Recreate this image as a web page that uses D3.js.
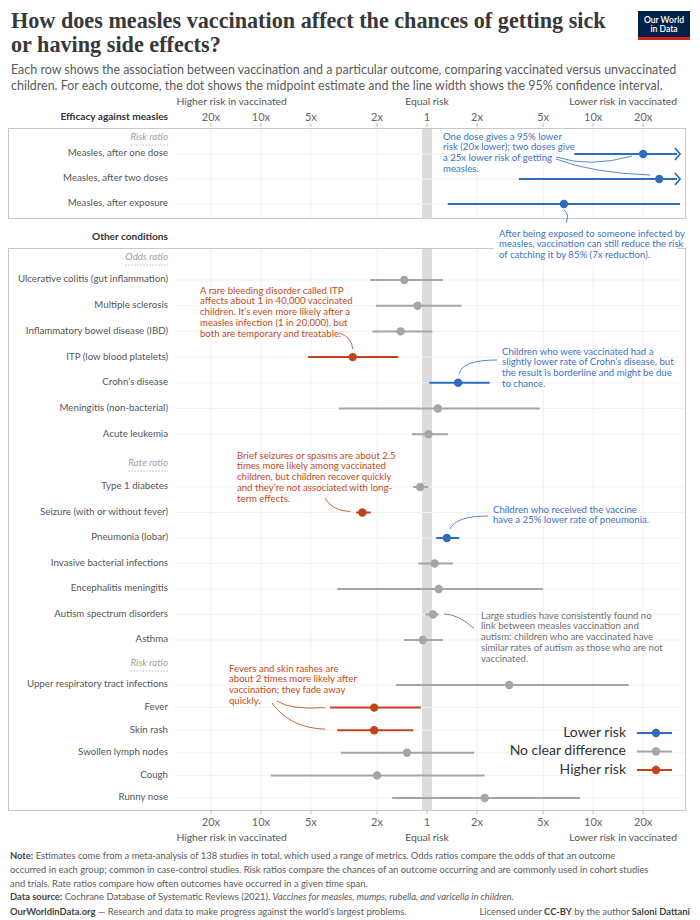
<!DOCTYPE html>
<html>
<head>
<meta charset="utf-8">
<script src="https://cdn.jsdelivr.net/npm/d3@7"></script>
<style>
  body { margin: 0; background: #fff; }
  text { font-family: Lato, 'Noto Sans', sans-serif; }
</style>
</head>
<body>
<svg id="chart"></svg>
<script>
// values: ratio vaccinated / unvaccinated (estimate, low CI, high CI)
const measlesRows = ['Measles, after one dose', 'Measles, after two doses', 'Measles, after exposure'];
const measlesEst = [0.05, 0.04, 0.15];
const measlesLo = [0.02, 0.01, 0.03];
const measlesHi = [0.13, 0.28, 0.75];

const oddsRows = ['Ulcerative colitis (gut inflammation)', 'Multiple sclerosis', 'Inflammatory bowel disease (IBD)',
  'ITP (low blood platelets)', 'Crohn’s disease', 'Meningitis (non-bacterial)', 'Acute leukemia'];
const oddsEst = [1.37, 1.14, 1.44, 2.80, 0.65, 0.86, 0.98];
const oddsLo = [0.80, 0.62, 0.93, 1.49, 0.42, 0.21, 0.75];
const oddsHi = [2.20, 2.03, 2.13, 5.20, 0.97, 3.39, 1.23];

const rateRows = ['Type 1 diabetes', 'Seizure (with or without fever)', 'Pneumonia (lobar)',
  'Invasive bacterial infections', 'Encephalitis meningitis', 'Autism spectrum disorders', 'Asthma'];
const rateEst = [1.10, 2.45, 0.76, 0.90, 0.85, 0.92, 1.06];
const rateLo = [0.98, 2.18, 0.64, 0.70, 0.20, 0.85, 0.80];
const rateHi = [1.21, 2.67, 0.88, 1.13, 3.47, 1.02, 1.38];

const riskRows = ['Upper respiratory tract infections', 'Fever', 'Skin rash', 'Swollen lymph nodes', 'Cough', 'Runny nose'];
const riskEst = [0.32, 2.08, 2.08, 1.32, 2.00, 0.45];
const riskLo = [0.061, 1.09, 1.21, 0.52, 0.45, 0.12];
const riskHi = [1.54, 3.84, 3.47, 3.30, 8.70, 1.62];

const tickValues = [20, 10, 5, 2, 1, 0.5, 0.2, 0.1, 0.05];
const tickLabels = ['20x', '10x', '5x', '2x', '1', '2x', '5x', '10x', '20x'];

const legendLabels = ['Lower risk', 'No clear difference', 'Higher risk'];
const legendKeys = ['lower', 'none', 'higher'];

const COLORS = {
  lower: '#2f6bbf',
  none: '#a5a5a5',
  higher: '#c0431c'
};
const TEXT_COLORS = {
  lower: '#3d72c4',
  none: '#707070',
  higher: '#c44a22'
};

const W = 700, H = 920;
const svg = d3.select('#chart').attr('width', W).attr('height', H);

const x = d3.scaleLog().domain([32, 0.03]).range([177, 680]);
const X_MIN = 0.03, X_MAX = 32;
const clampX = v => x(Math.min(X_MAX, Math.max(X_MIN, v)));

function effectOf(lo, hi) {
  if (hi < 1) return 'lower';
  if (lo > 1) return 'higher';
  return 'none';
}

const sections = [
  { header: 'Risk ratio', rows: measlesRows, est: measlesEst, lo: measlesLo, hi: measlesHi, y0: 154, step: 25, gap: 16 },
  { header: 'Odds ratio', rows: oddsRows, est: oddsEst, lo: oddsLo, hi: oddsHi, y0: 280, step: 25.7, gap: 22 },
  { header: 'Rate ratio', rows: rateRows, est: rateEst, lo: rateLo, hi: rateHi, y0: 487, step: 25.5, gap: 23 },
  { header: 'Risk ratio', rows: riskRows, est: riskEst, lo: riskLo, hi: riskHi, y0: 685, step: 22.6, gap: 21 }
];
sections.forEach(s => {
  s.y = d3.scalePoint().domain(s.rows).range([s.y0, s.y0 + s.step * (s.rows.length - 1)]);
});

const panels = [
  { title: 'Efficacy against measles', top: 128, bottom: 218 },
  { title: 'Other conditions', top: 248, bottom: 810 }
];
const LABEL_X = 168;

// ---- title ----
const titleLines = ['How does measles vaccination affect the chances of getting sick', 'or having side effects?'];
const t1 = svg.append('text').attr('x', 11).attr('y', 28).text(titleLines[0])
  .style('font-family', "'Liberation Serif', serif").attr('font-weight', 700).attr('font-size', 24).attr('fill', '#383838');
const fs = 24 * 595 / t1.node().getComputedTextLength();
t1.attr('font-size', fs);
svg.append('text').attr('x', 11).attr('y', 52).text(titleLines[1])
  .style('font-family', "'Liberation Serif', serif").attr('font-weight', 700).attr('font-size', fs).attr('fill', '#383838');

const subLines = ['Each row shows the association between vaccination and a particular outcome, comparing vaccinated versus unvaccinated',
  'children. For each outcome, the dot shows the midpoint estimate and the line width shows the 95% confidence interval.'];
const s1 = svg.append('text').attr('x', 11).attr('y', 74).attr('font-size', 13).attr('fill', '#5b5b5b').text(subLines[0]);
const sfs = 13 * 666 / s1.node().getComputedTextLength();
s1.attr('font-size', sfs);
svg.append('text').attr('x', 11).attr('y', 90).attr('font-size', sfs).attr('fill', '#5b5b5b').text(subLines[1]);

// logo
const logo = svg.append('g').attr('transform', 'translate(638,11)');
logo.append('rect').attr('width', 52).attr('height', 29).attr('fill', '#002147');
logo.append('rect').attr('y', 26).attr('width', 52).attr('height', 3).attr('fill', '#ce261e');
logo.append('text').attr('x', 26).attr('y', 11.5).attr('text-anchor', 'middle').attr('font-size', 8.6)
  .attr('fill', '#fff').attr('font-weight', 600).text('Our World');
logo.append('text').attr('x', 26).attr('y', 21).attr('text-anchor', 'middle').attr('font-size', 8.6)
  .attr('fill', '#fff').attr('font-weight', 600).text('in Data');

// ---- panels ----
panels.forEach(p => {
  svg.append('rect')
    .attr('x', 8.5).attr('y', p.top + 0.5)
    .attr('width', 677).attr('height', p.bottom - p.top)
    .attr('fill', '#fff').attr('stroke', '#c8c8c8').attr('stroke-width', 1);

  svg.append('text')
    .attr('x', LABEL_X).attr('y', p.top - 11)
    .attr('text-anchor', 'end').attr('dominant-baseline', 'middle')
    .attr('font-size', 10.1).attr('font-weight', 700).attr('fill', '#333')
    .text(p.title);

  // vertical grid
  svg.append('g').selectAll('line')
    .data(tickValues)
    .join('line')
      .attr('x1', d => x(d)).attr('x2', d => x(d))
      .attr('y1', p.top + 1).attr('y2', p.bottom)
      .attr('stroke', '#efefef').attr('stroke-width', 1);

  // equal-risk band
  svg.append('rect')
    .attr('x', x(1) - 5).attr('y', p.top + 1)
    .attr('width', 10).attr('height', p.bottom - p.top - 0.5)
    .attr('fill', '#dcdcdc');
});

// ---- axes labels top and bottom ----
function drawAxis(tickY, labelY, tickTop) {
  const g = svg.append('g');
  g.selectAll('.tick-label')
    .data(tickValues)
    .join('text')
      .attr('class', 'tick-label')
      .attr('x', d => x(d)).attr('y', tickY)
      .attr('text-anchor', 'middle')
      .attr('font-size', 11).attr('fill', '#666')
      .text((d, i) => tickLabels[i]);
  g.selectAll('.tick-mark')
    .data(tickValues)
    .join('line')
      .attr('class', 'tick-mark')
      .attr('x1', d => x(d)).attr('x2', d => x(d))
      .attr('y1', tickTop).attr('y2', tickTop + 4)
      .attr('stroke', '#bbb');
  const heads = [
    { t: 'Higher risk in vaccinated', x: x(15), anchor: 'middle' },
    { t: 'Equal risk', x: x(1), anchor: 'middle' },
    { t: 'Lower risk in vaccinated', x: 677, anchor: 'end' }
  ];
  g.selectAll('.axis-head')
    .data(heads)
    .join('text')
      .attr('class', 'axis-head')
      .attr('x', d => d.x).attr('y', labelY)
      .attr('text-anchor', d => d.anchor)
      .attr('font-size', 10.3).attr('fill', '#555')
      .text(d => d.t);
}
drawAxis(121, 105, 123);
drawAxis(826, 841, 810);

// ---- rows ----
sections.forEach(s => {
  const g = svg.append('g');

  // header
  const hy = s.y0 - s.gap;
  const ht = g.append('text')
    .attr('x', LABEL_X).attr('y', hy)
    .attr('text-anchor', 'end').attr('dominant-baseline', 'middle')
    .attr('font-size', 9.8).attr('font-style', 'italic').attr('fill', '#a0a0a0')
    .text(s.header);
  const hw = ht.node().getComputedTextLength();
  g.append('line')
    .attr('x1', LABEL_X - hw).attr('x2', LABEL_X)
    .attr('y1', hy + 7).attr('y2', hy + 7)
    .attr('stroke', '#bbb').attr('stroke-dasharray', '1.5,1.5');

  const data = s.rows.map((r, i) => ({
    row: r, est: s.est[i], lo: s.lo[i], hi: s.hi[i], effect: effectOf(s.lo[i], s.hi[i])
  }));

  // horizontal grid
  g.selectAll('.hgrid')
    .data(data)
    .join('line')
      .attr('class', 'hgrid')
      .attr('x1', 175).attr('x2', 684)
      .attr('y1', d => s.y(d.row)).attr('y2', d => s.y(d.row))
      .attr('stroke', '#f1f1f1');

  g.selectAll('.row-label')
    .data(data)
    .join('text')
      .attr('class', 'row-label')
      .attr('x', LABEL_X).attr('y', d => s.y(d.row))
      .attr('text-anchor', 'end').attr('dominant-baseline', 'middle')
      .attr('font-size', 9.7).attr('fill', '#555')
      .text(d => d.row);

  g.selectAll('.ci')
    .data(data)
    .join('line')
      .attr('class', 'ci')
      .attr('x1', d => clampX(d.hi))
      .attr('x2', d => d.lo < X_MIN ? x(X_MIN) - 3 : clampX(d.lo))
      .attr('y1', d => s.y(d.row)).attr('y2', d => s.y(d.row))
      .attr('stroke', d => COLORS[d.effect]).attr('stroke-width', 2);

  // arrows for intervals that run off the scale
  g.selectAll('.arrow')
    .data(data.filter(d => d.lo < X_MIN))
    .join('path')
      .attr('class', 'arrow')
      .attr('d', d => {
        const ax = x(X_MIN), ay = s.y(d.row);
        return `M${ax - 5},${ay - 6}L${ax},${ay}L${ax - 5},${ay + 6}`;
      })
      .attr('fill', 'none').attr('stroke', d => COLORS[d.effect]).attr('stroke-width', 1.8);

  g.selectAll('.dot')
    .data(data)
    .join('circle')
      .attr('class', 'dot')
      .attr('cx', d => x(d.est)).attr('cy', d => s.y(d.row))
      .attr('r', 4.2)
      .attr('fill', d => COLORS[d.effect]);
});

// ---- annotations ----
const rowY = name => {
  const s = sections.find(s => s.rows.includes(name));
  return s.y(name);
};
const estOf = name => {
  const s = sections.find(s => s.rows.includes(name));
  return s.est[s.rows.indexOf(name)];
};

const annotations = [
  { key: 'lower', x: 443, y: 139.5, lines: ['One dose gives a 95% lower', 'risk (20x lower); two doses give', 'a 25x lower risk of getting', 'measles.'] },
  { key: 'lower', x: 499, y: 236.5, bg: true, lines: ['After being exposed to someone infected by', 'measles, vaccination can still reduce the risk', 'of catching it by 85% (7x reduction).'] },
  { key: 'higher', x: 200, y: 293.5, lines: ['A rare bleeding disorder called ITP', 'affects about 1 in 40,000 vaccinated', 'children. It’s even more likely after a', 'measles infection (1 in 20,000), but', 'both are temporary and treatable.'] },
  { key: 'lower', x: 502, y: 354.5, lines: ['Children who were vaccinated had a', 'slightly lower rate of Crohn’s disease, but', 'the result is borderline and might be due', 'to chance.'] },
  { key: 'higher', x: 237, y: 458.5, lines: ['Brief seizures or spasms are about 2.5', 'times more likely among vaccinated', 'children, but children recover quickly', 'and they’re not associated with long-', 'term effects.'] },
  { key: 'lower', x: 493, y: 512.5, lines: ['Children who received the vaccine', 'have a 25% lower rate of pneumonia.'] },
  { key: 'none', x: 481, y: 618.5, lines: ['Large studies have consistently found no', 'link between measles vaccination and', 'autism: children who are vaccinated have', 'similar rates of autism as those who are not', 'vaccinated.'] },
  { key: 'higher', x: 229, y: 671.5, lines: ['Fevers and skin rashes are', 'about 2 times more likely after', 'vaccination; they fade away', 'quickly.'] }
];

const LH = 10.8;
annotations.forEach(a => {
  if (a.bg) {
    svg.append('rect')
      .attr('x', a.x - 5).attr('y', a.y - 12)
      .attr('width', 183).attr('height', a.lines.length * LH + 6)
      .attr('fill', '#fff');
  }
  const t = svg.append('text')
    .attr('font-size', 9.6).attr('fill', TEXT_COLORS[a.key]);
  a.lines.forEach((l, i) => {
    t.append('tspan').attr('x', a.x).attr('y', a.y + i * LH).text(l);
  });
});

// connectors: start near the text, end near the dot
const connectors = [
  { key: 'lower', sx: 556, sy: 157, row: 'Measles, after one dose', dx: -11, dy: 2, c: [590, 168] },
  { key: 'lower', sx: 556, sy: 159, row: 'Measles, after two doses', dx: -9, dy: -4, c: [592, 173] },
  { key: 'lower', sx: 566, sy: 223, row: 'Measles, after exposure', dx: 0, dy: 6, c: [570, 214] },
  { key: 'higher', sx: 339, sy: 333, row: 'ITP (low blood platelets)', dx: 0, dy: -8, c: [352, 337] },
  { key: 'lower', sx: 497, sy: 360, row: 'Crohn’s disease', dx: 1, dy: -9, c: [462, 360] },
  { key: 'higher', sx: 325, sy: 498, row: 'Seizure (with or without fever)', dx: -12, dy: -1, c: [332, 511] },
  { key: 'lower', sx: 488, sy: 516, row: 'Pneumonia (lobar)', dx: 3, dy: -9, c: [456, 516] },
  { key: 'none', sx: 444, sy: 614, row: 'Autism spectrum disorders', dx: 41, dy: 14, c: [458, 614] },
  { key: 'higher', sx: 277, sy: 701, row: 'Fever', dx: -49, dy: 0, c: [290, 710] },
  { key: 'higher', sx: 272, sy: 703, row: 'Skin rash', dx: -49, dy: -1, c: [290, 728] }
];
svg.append('g').selectAll('path')
  .data(connectors)
  .join('path')
    .attr('d', d => {
      const ex = x(estOf(d.row)) + d.dx, ey = rowY(d.row) + d.dy;
      return `M${d.sx},${d.sy}Q${d.c[0]},${d.c[1]} ${ex},${ey}`;
    })
    .attr('fill', 'none')
    .attr('stroke', d => TEXT_COLORS[d.key])
    .attr('stroke-width', 1)
    .attr('opacity', 0.85);

// ---- legend ----
const legend = svg.append('g');
const ly = d3.scalePoint().domain(legendLabels).range([733, 770]);
legendLabels.forEach((l, i) => {
  const y = ly(l);
  legend.append('text')
    .attr('x', 626).attr('y', y)
    .attr('text-anchor', 'end').attr('dominant-baseline', 'middle')
    .attr('font-size', 14).attr('fill', '#333')
    .text(l);
  legend.append('line')
    .attr('x1', 637).attr('x2', 672).attr('y1', y).attr('y2', y)
    .attr('stroke', COLORS[legendKeys[i]]).attr('stroke-width', 2);
  legend.append('circle')
    .attr('cx', 656).attr('cy', y).attr('r', 4.2)
    .attr('fill', COLORS[legendKeys[i]]);
});

// ---- footer ----
const foot = svg.append('g').attr('font-size', 9.4).attr('fill', '#5b5b5b');
const n1 = foot.append('text').attr('x', 10).attr('y', 859);
n1.append('tspan').attr('font-weight', 700).attr('fill', '#444').text('Note:');
n1.append('tspan').text(' Estimates come from a meta-analysis of 138 studies in total, which used a range of metrics. Odds ratios compare the odds of that an outcome');
foot.append('text').attr('x', 10).attr('y', 873)
  .text('occurred in each group; common in case-control studies. Risk ratios compare the chances of an outcome occurring and are commonly used in cohort studies');
foot.append('text').attr('x', 10).attr('y', 887)
  .text('and trials. Rate ratios compare how often outcomes have occurred in a given time span.');
const ds = foot.append('text').attr('x', 10).attr('y', 900);
ds.append('tspan').attr('font-weight', 700).attr('fill', '#444').text('Data source:');
ds.append('tspan').text(' Cochrane Database of Systematic Reviews (2021). ');
ds.append('tspan').attr('font-style', 'italic').text('Vaccines for measles, mumps, rubella, and varicella in children.');
const ow = foot.append('text').attr('x', 10).attr('y', 915);
ow.append('tspan').attr('font-weight', 700).attr('fill', '#444').text('OurWorldinData.org');
ow.append('tspan').text(' — Research and data to make progress against the world’s largest problems.');
const lic = foot.append('text').attr('x', 690).attr('y', 915).attr('text-anchor', 'end');
lic.append('tspan').text('Licensed under ');
lic.append('tspan').attr('font-weight', 700).attr('fill', '#444').text('CC-BY');
lic.append('tspan').text(' by the author ');
lic.append('tspan').attr('font-weight', 700).attr('fill', '#444').text('Saloni Dattani');
</script>
</body>
</html>
